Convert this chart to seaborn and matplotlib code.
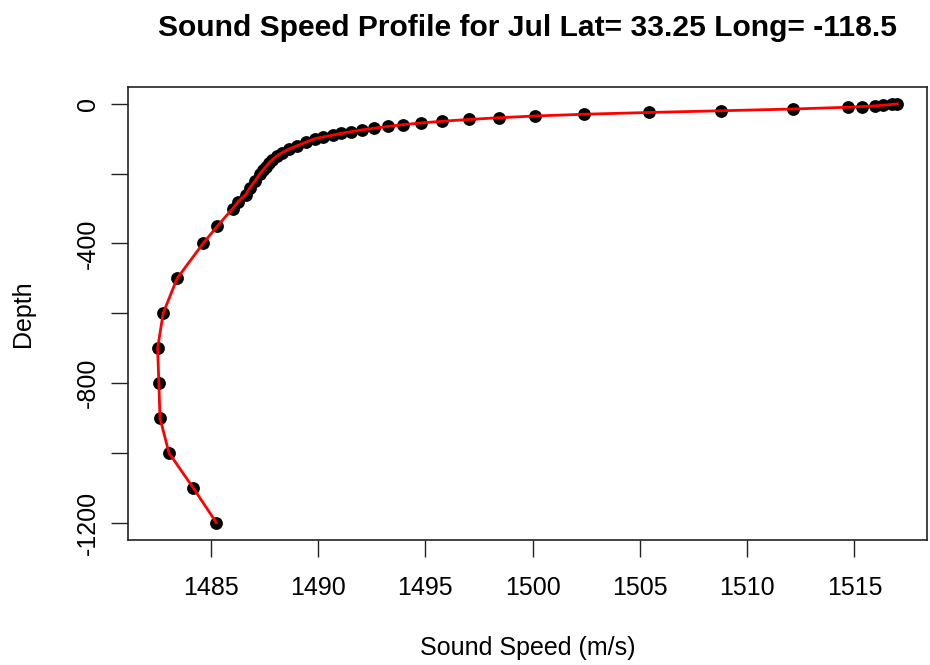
import matplotlib
matplotlib.use("Agg")

import matplotlib.pyplot as plt
import numpy as np
import pandas as pd
import seaborn as sns

# ─── DATA ────────────────────────────────────────────────────────
depth = [0, 2, 4, 6, 8, 10, 15, 20, 25, 30, 35, 40, 45, 50, 55, 60, 65, 70,
         75, 80, 85, 90, 95, 100, 110, 120, 130, 140, 150, 160, 170, 180, 190,
         200, 220, 240, 260, 280, 300, 350, 400, 500, 600, 700, 800, 900,
         1000, 1100, 1200]
speed = [1517.00, 1516.74, 1516.35, 1515.95, 1515.36, 1514.70, 1512.15,
         1508.80, 1505.42, 1502.40, 1500.13, 1498.42, 1497.02, 1495.79,
         1494.78, 1493.94, 1493.24, 1492.62, 1492.03, 1491.53, 1491.07,
         1490.68, 1490.25, 1489.85, 1489.44, 1489.03, 1488.63, 1488.33,
         1488.07, 1487.87, 1487.70, 1487.57, 1487.43, 1487.29, 1487.07,
         1486.83, 1486.63, 1486.28, 1486.02, 1485.31, 1484.64, 1483.43,
         1482.78, 1482.52, 1482.58, 1482.63, 1483.05, 1484.18, 1485.26]
x_ticks = [1485, 1490, 1495, 1500, 1505, 1510, 1515]
y_ticks = [0, -200, -400, -600, -800, -1000, -1200]
y_tick_labels = ["0", "", "-400", "", "-800", "", "-1200"]

TITLE = "Sound Speed Profile for Jul Lat= 33.25 Long= -118.5"
FS = 18.0

df = pd.DataFrame({"speed": speed, "depth": -np.array(depth)})

# ─── STYLE ───────────────────────────────────────────────────────
sns.set_style("white")
plt.rcParams["font.family"] = ["Liberation Sans", "DejaVu Sans"]
plt.rcParams["text.color"] = "black"

fig = plt.figure(figsize=(9.3, 6.65), dpi=100)
ax = fig.add_axes([128 / 930, 1 - 539.5 / 665, (927 - 128) / 930, (539.5 - 87) / 665])

sns.lineplot(data=df, x="speed", y="depth", sort=False, estimator=None,
             color="#ff0000", linewidth=2.0, ax=ax, zorder=3)
sns.scatterplot(data=df, x="speed", y="depth", color="black", s=85,
                edgecolor="black", linewidth=0, ax=ax, zorder=2)

# R style axis extension: 4% on each side
xr = max(speed) - min(speed)
ax.set_xlim(min(speed) - 0.04 * xr, max(speed) + 0.04 * xr)
ax.set_ylim(-max(depth) * 1.04, max(depth) * 0.04)

ax.set_xticks(x_ticks)
ax.set_xticklabels([str(t) for t in x_ticks])
ax.set_yticks(y_ticks)
ax.set_yticklabels(y_tick_labels, rotation=90, va="center")

ax.tick_params(axis="both", direction="out", length=12, width=1,
               color="#222222", labelsize=FS, labelcolor="black",
               bottom=True, left=True)
ax.tick_params(axis="x", pad=14)
ax.tick_params(axis="y", pad=8)
for s in ax.spines.values():
    s.set_color("#222222")
    s.set_linewidth(1.2)

ax.set_xlabel("Sound Speed (m/s)", fontsize=FS, color="black", labelpad=26)
ax.set_ylabel("Depth", fontsize=FS, color="black", labelpad=30)
fig.text((128 + 927) / 2 / 930, 1 - 28 / 665, TITLE, ha="center", va="center",
         fontsize=FS * 1.2, fontweight="bold")

fig.savefig("out.png", dpi=100, facecolor="white")
